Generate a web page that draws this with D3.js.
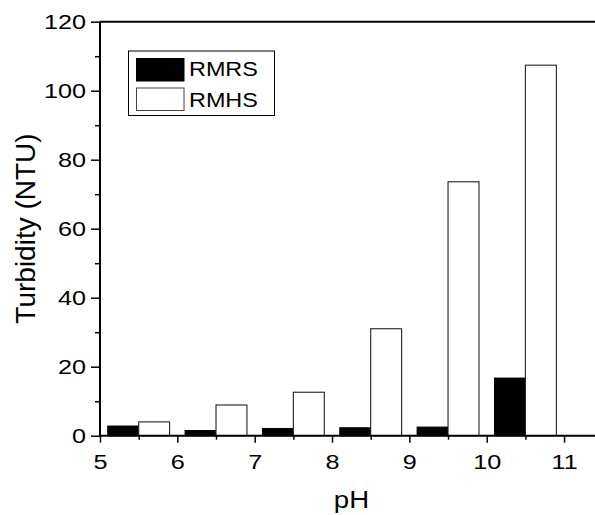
<!DOCTYPE html>
<html>
<head>
<meta charset="utf-8">
<script src="https://cdn.jsdelivr.net/npm/d3@7/dist/d3.min.js"></script>
<style>
  html, body { margin: 0; padding: 0; background: #fff; }
  svg text { font-family: "Liberation Sans", Arial, sans-serif; fill: #000; }
</style>
</head>
<body>
<svg id="chart" width="595" height="515"></svg>
<script>
// Turbidity of the two suspensions at each pH
const phGroups = [5.5, 6.5, 7.5, 8.5, 9.5, 10.5];
const rmrs = [2.8, 1.5, 2.1, 2.3, 2.5, 16.7];
const rmhs = [4.0, 8.9, 12.6, 31.0, 73.6, 107.4];
const seriesNames = ["RMRS", "RMHS"];
const xTickLabels = [5, 6, 7, 8, 9, 10, 11];
const yTickLabels = [0, 20, 40, 60, 80, 100, 120];

const svg = d3.select("#chart");
const x = d3.scaleLinear().domain([5, 11.4]).range([100, 595]);
const y = d3.scaleLinear().domain([0, 120]).range([435.7, 21.7]);
const barW = 0.4;
const sx = 1.2; // horizontal stretch of the lettering

// bars: filled series to the left of each group centre, open series to the right
const bars = svg.append("g");
bars.selectAll("rect.rmrs").data(phGroups.map((p, i) => ({p, v: rmrs[i]})))
  .join("rect").attr("class", "rmrs")
  .attr("x", d => x(d.p - barW)).attr("width", d => x(d.p) - x(d.p - barW))
  .attr("y", d => y(d.v)).attr("height", d => y(0) - y(d.v))
  .attr("fill", "#000").attr("stroke", "#000").attr("stroke-width", 1);
bars.selectAll("rect.rmhs").data(phGroups.map((p, i) => ({p, v: rmhs[i]})))
  .join("rect").attr("class", "rmhs")
  .attr("x", d => x(d.p)).attr("width", d => x(d.p + barW) - x(d.p))
  .attr("y", d => y(d.v)).attr("height", d => y(0) - y(d.v))
  .attr("fill", "#fff").attr("stroke", "#222").attr("stroke-width", 1.1);

// top frame line
svg.append("line").attr("x1", x(5)).attr("x2", 595).attr("y1", y(120)).attr("y2", y(120))
  .attr("stroke", "#000").attr("stroke-width", 2);

// y axis with major and minor ticks
const yAxis = svg.append("g").attr("transform", `translate(${x(5)},0)`)
  .call(d3.axisLeft(y).tickValues(yTickLabels).tickSize(9).tickPadding(5).tickFormat(d3.format("d")));
svg.append("g").attr("transform", `translate(${x(5)},0)`)
  .call(d3.axisLeft(y).tickValues(d3.range(10, 120, 20)).tickSize(5).tickFormat(""))
  .select(".domain").remove();

// x axis with major and minor ticks
const xAxis = svg.append("g").attr("transform", `translate(0,${y(0)})`)
  .call(d3.axisBottom(x).tickValues(xTickLabels).tickSize(7).tickPadding(11).tickFormat(d3.format("d")));
svg.append("g").attr("transform", `translate(0,${y(0)})`)
  .call(d3.axisBottom(x).tickValues(d3.range(5.5, 11.4, 1)).tickSize(4).tickFormat(""))
  .select(".domain").remove();

svg.selectAll(".domain").attr("stroke-width", 2).attr("stroke", "#000");
xAxis.select(".domain").attr("d", `M${x(5)},0H595`);
yAxis.select(".domain").attr("d", `M0,${y(0)}V${y(120)}`);
svg.selectAll(".tick line").attr("stroke", "#000").attr("stroke-width", 1.5);
svg.selectAll(".tick text").attr("font-size", 21).attr("font-family", "Liberation Sans, Arial, sans-serif");

// stretch tick labels horizontally while keeping their anchor point
yAxis.selectAll(".tick text").each(function () {
  const t = d3.select(this);
  t.attr("x", +t.attr("x") / sx).attr("transform", `scale(${sx},1)`);
});
xAxis.selectAll(".tick text").attr("transform", `scale(${sx},1)`);

// axis titles
svg.append("text").attr("transform", `translate(351.5,507.5) scale(1.15,1)`).attr("text-anchor", "middle")
  .attr("font-size", 24).text("pH");
svg.append("text").attr("transform", "translate(35,228.5) rotate(-90)").attr("text-anchor", "middle")
  .attr("font-size", 28).text("Turbidity (NTU)");

// legend
const leg = svg.append("g");
leg.append("rect").attr("x", 128.5).attr("y", 51).attr("width", 146).attr("height", 64.5)
  .attr("fill", "#fff").attr("stroke", "#000").attr("stroke-width", 1);
const legFills = ["#000", "#fff"];
seriesNames.forEach((name, i) => {
  leg.append("rect").attr("x", 136.5).attr("y", 58.5 + i * 29.5).attr("width", 47.5).attr("height", 22.5)
    .attr("fill", legFills[i]).attr("stroke", i ? "#444" : "#000").attr("stroke-width", 1);
  leg.append("text").attr("transform", `translate(189,${76.3 + i * 31}) scale(${sx},1)`)
    .attr("font-size", 19.5).text(name);
});
</script>
</body>
</html>
